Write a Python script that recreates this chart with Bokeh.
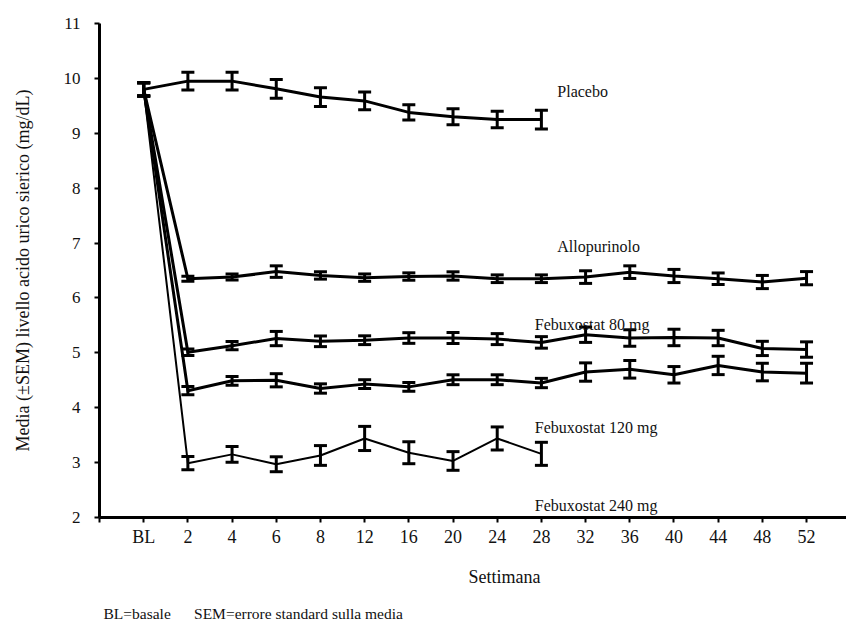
from bokeh.plotting import figure
from bokeh.models import (Range1d, FixedTicker, Whisker, TeeHead, ColumnDataSource,
                          Label, Title)
from bokeh.embed import file_html
from bokeh.resources import INLINE

weeks = ["BL", "2", "4", "6", "8", "12", "16", "20", "24", "28",
         "32", "36", "40", "44", "48", "52"]

placebo = [9.80, 9.95, 9.95, 9.81, 9.66, 9.59, 9.38, 9.30, 9.25, 9.25]
placebo_sem = [0.12, 0.16, 0.16, 0.17, 0.17, 0.16, 0.14, 0.145, 0.15, 0.17]

allo = [9.80, 6.35, 6.38, 6.48, 6.41, 6.37, 6.39, 6.40, 6.35, 6.35,
        6.38, 6.47, 6.40, 6.35, 6.29, 6.36]
allo_sem = [0.12, 0.045, 0.055, 0.105, 0.067, 0.067, 0.067, 0.076, 0.07, 0.07,
            0.115, 0.115, 0.12, 0.105, 0.12, 0.12]

feb80 = [9.80, 5.01, 5.13, 5.26, 5.21, 5.23, 5.27, 5.27, 5.25, 5.19,
         5.33, 5.27, 5.28, 5.27, 5.08, 5.06]
feb80_sem = [0.12, 0.06, 0.075, 0.13, 0.097, 0.08, 0.097, 0.1, 0.1, 0.105,
             0.14, 0.15, 0.15, 0.14, 0.13, 0.14]

feb120 = [9.80, 4.31, 4.49, 4.50, 4.35, 4.43, 4.38, 4.51, 4.51, 4.45,
          4.65, 4.70, 4.60, 4.77, 4.65, 4.63]
feb120_sem = [0.12, 0.075, 0.08, 0.12, 0.085, 0.08, 0.08, 0.09, 0.09, 0.085,
              0.167, 0.16, 0.15, 0.167, 0.16, 0.18]

feb240 = [9.80, 2.99, 3.15, 2.97, 3.13, 3.44, 3.18, 3.03, 3.44, 3.16]
feb240_sem = [0.12, 0.12, 0.145, 0.136, 0.18, 0.22, 0.2, 0.17, 0.21, 0.21]

series_names = ["Placebo", "Allopurinolo", "Febuxostat 80 mg",
                "Febuxostat 120 mg", "Febuxostat 240 mg"]

FONT = "Liberation Serif"

W, H = 846, 622
ML, MT = 99, 23
FRAME_H = 495
MB = H - MT - FRAME_H
frame_w = W - ML
x_start = -1.0
x_end = x_start + frame_w / 44.19

p = figure(width=W, height=H, output_backend="svg", toolbar_location=None,
           x_range=Range1d(x_start, x_end), y_range=Range1d(2, 11),
           min_border_left=ML, min_border_right=0, min_border_top=MT,
           min_border_bottom=MB, background_fill_color="white",
           border_fill_color="white", outline_line_color=None)
p.grid.visible = False

series = [
    (placebo, placebo_sem, 3),
    (allo, allo_sem, 3),
    (feb80, feb80_sem, 3),
    (feb120, feb120_sem, 3),
    (feb240, feb240_sem, 2),
]

for vals, sems, lw in series:
    xs = list(range(len(vals)))
    src = ColumnDataSource(dict(
        x=xs, y=vals,
        upper=[v + s for v, s in zip(vals, sems)],
        lower=[v - s for v, s in zip(vals, sems)],
    ))
    p.line("x", "y", source=src, line_color="black", line_width=lw,
           line_join="round")
    w = Whisker(source=src, base="x", upper="upper", lower="lower",
                line_color="black", line_width=3, level="glyph",
                upper_head=TeeHead(size=13, line_color="black", line_width=3),
                lower_head=TeeHead(size=13, line_color="black", line_width=3))
    p.add_layout(w)

# series labels (annotation positions)
label_pos = [(9.36, 9.77), (9.36, 6.93), (8.85, 5.51), (8.85, 3.64), (8.85, 2.22)]
for name, (lx, ly) in zip(series_names, label_pos):
    p.add_layout(Label(x=lx, y=ly, text=name, text_font=FONT,
                       text_font_size="16px", text_color="#111111",
                       text_baseline="alphabetic", text_align="left"))

# axes
xa = p.xaxis[0]
xa.ticker = FixedTicker(ticks=[-1] + list(range(len(weeks))))
overrides = {-1: ""}
overrides.update({i: w for i, w in enumerate(weeks)})
xa.major_label_overrides = overrides
xa.major_label_text_font = FONT
xa.major_label_text_font_size = "18px"
xa.major_label_text_color = "#111111"
xa.major_label_standoff = 4
xa.major_tick_in = 0
xa.major_tick_out = 5
xa.major_tick_line_width = 2
xa.minor_tick_line_color = None
xa.axis_line_width = 3
xa.axis_line_color = "black"

ya = p.yaxis[0]
ya.ticker = FixedTicker(ticks=list(range(2, 12)))
ya.major_label_text_font = FONT
ya.major_label_text_font_size = "17px"
ya.major_label_text_color = "#111111"
ya.major_label_standoff = 14
ya.major_tick_in = 0
ya.major_tick_out = 5
ya.major_tick_line_width = 2
ya.minor_tick_line_color = None
ya.axis_line_width = 3
ya.axis_line_color = "black"
ya.axis_label = "Media (\u00b1SEM) livello acido urico sierico (mg/dL)"
ya.axis_label_text_font = FONT
ya.axis_label_text_font_size = "18px"
ya.axis_label_text_font_style = "normal"
ya.axis_label_text_color = "#111111"
ya.axis_label_standoff = 28

# x axis title and footnote as titles below the axis
t_x = Title(text="Settimana", align="left", offset=369, text_font=FONT,
            text_font_size="18px", text_font_style="normal",
            text_color="#111111", standoff=30)
p.add_layout(t_x, "below")
nb = "\u00a0" * 6
t_note = Title(text="BL=basale" + nb + "SEM=errore standard sulla media",
               align="left", offset=4, text_font=FONT,
               text_font_size="15.5px", text_font_style="normal",
               text_color="#111111", standoff=2)
p.add_layout(t_note, "below")

open("out.html", "w").write(file_html(p, INLINE))
